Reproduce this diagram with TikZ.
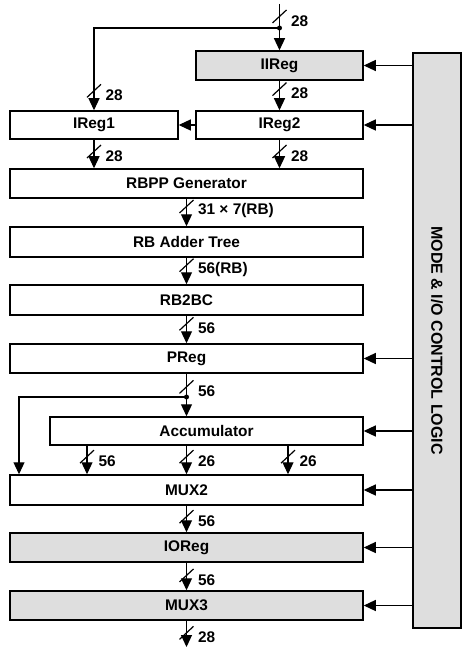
\documentclass[tikz,border=0pt]{standalone}
\usepackage{fontspec}
\setmainfont{Liberation Sans}
\usepackage{tikz}
\usetikzlibrary{arrows.meta, positioning}

\begin{document}
\begin{tikzpicture}[
  x=1pt, y=-1pt,
  blk/.style={draw, line width=1.5pt, minimum width=353pt, minimum height=29pt, inner sep=0pt, font=\fontsize{15.4}{18}\selectfont\bfseries},
  shade/.style={fill=black!13},
  arr/.style={-{Triangle[length=12pt,width=11pt]}, line width=1.2pt},
  bus/.pic={
    \draw[-, line width=1.2pt] (-7,6) -- (7,-7);
    \node[anchor=west, inner sep=0pt, font=\fontsize{15.4}{18}\selectfont\bfseries] at (11,4) {\tikzpictext};
  }
]
\useasboundingbox (0,0) rectangle (462,647);

% blocks
\node[blk, shade, minimum width=167pt] (iireg) at (279.5,65.5) {IIReg};
\node[blk, minimum width=168pt, minimum height=28pt] (ireg1) at (94,125) {IReg1};
\node[blk, minimum width=167pt, minimum height=28pt] (ireg2) at (279.5,125) {IReg2};
\node[blk] (rbpp) at (186.5,183.5) {RBPP Generator};
\node[blk, minimum height=30pt] (adder) at (186.5,242) {RB Adder Tree};
\node[blk, minimum height=30pt] (rb2bc) at (186.5,300) {RB2BC};
\node[blk] (preg) at (186.5,358.5) {PReg};
\node[blk, minimum width=313pt, minimum height=28pt] (acc) at (206.5,431) {Accumulator};
\node[blk, minimum height=30pt] (mux2) at (186.5,490) {MUX2};
\node[blk, shade] (ioreg) at (186.5,547.5) {IOReg};
\node[blk, shade] (mux3) at (186.5,605.5) {MUX3};

\node[draw, line width=1.5pt, shade, minimum width=48pt, minimum height=575pt, inner sep=0pt] (ctrl) at (437,340.5) {};
\node[rotate=-90, font=\fontsize{16}{18}\selectfont\bfseries] (ctrltxt) at (ctrl.center) {MODE \& I/O CONTROL LOGIC};

\coordinate (top) at (279.5,4);
\coordinate (jin) at (279.5,28);
\coordinate (jp) at (186.5,397);
\coordinate (jl) at (19,397);
\coordinate (out) at (186.5,647);

% data path
\draw[arr] (top) -- pic[pos=0.28, pic text=28] {bus} (iireg.north);
\fill (jin) circle (2.5);
\draw[arr] (jin) -| pic[pos=0.885, pic text=28] {bus} (ireg1.north);
\draw[arr] (iireg.south) -- pic[pos=0.3, pic text=28] {bus} (ireg2.north);
\draw[arr] (ireg2.west) -- (ireg1.east);
\draw[arr] (ireg1.south) -- pic[pos=0.43, pic text=28] {bus} (ireg1.south |- rbpp.north);
\draw[arr] (ireg2.south) -- pic[pos=0.43, pic text=28] {bus} (ireg2.south |- rbpp.north);
\draw[arr] (rbpp.south) -- pic[pos=0.3, pic text={31 × 7(RB)}] {bus} (adder.north);
\draw[arr] (adder.south) -- pic[pos=0.3, pic text=56(RB)] {bus} (rb2bc.north);
\draw[arr] (rb2bc.south) -- pic[pos=0.31, pic text=56] {bus} (preg.north);
\draw[arr] (preg.south) -- pic[pos=0.32, pic text=56] {bus} (preg.south |- acc.north);
\fill (jp) circle (2.5);
\draw[arr] (jp) -- (jl) -- (jl |- mux2.north);
\foreach \x/\w in {87/56, 186.5/26, 288/26}
  \draw[arr] (acc.south -| \x,0) -- pic[pos=0.4, pic text=\w] {bus} (mux2.north -| \x,0);
\draw[arr] (mux2.south) -- pic[pos=0.43, pic text=56] {bus} (ioreg.north);
\draw[arr] (ioreg.south) -- pic[pos=0.48, pic text=56] {bus} (mux3.north);
\draw[arr] (mux3.south) -- pic[pos=0.48, pic text=28] {bus} (out);

% control lines
\foreach \n in {iireg, ireg2, preg, acc, mux2, ioreg, mux3}
  \draw[arr] (ctrl.west |- \n.east) -- (\n.east);
\end{tikzpicture}
\end{document}
